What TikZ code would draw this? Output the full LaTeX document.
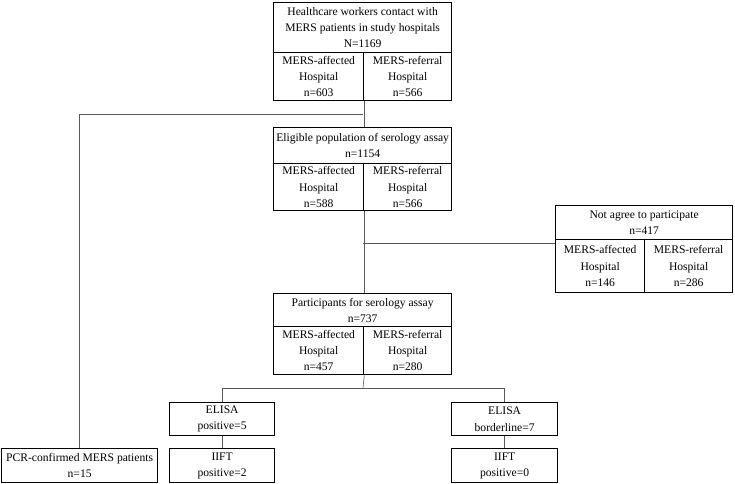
\documentclass[tikz,border=0pt]{standalone}
\usepackage{fontspec}
\setmainfont{Liberation Serif}
\begin{document}
\begin{tikzpicture}[x=1pt,y=-1pt,
  cell/.style={draw=black,line width=1.3pt,anchor=north west,inner sep=0pt,align=center,
    font=\fontsize{11.6}{16.3}\selectfont},
  conn/.style={draw=black!65,line width=0.6pt}]
\useasboundingbox (0,0) rectangle (735,483);
% box A
\node[cell,minimum width=178pt,minimum height=50pt] (Ah) at (273,2) {Healthcare workers contact with\\MERS patients in study hospitals\\N=1169};
\node[cell,minimum width=90pt,minimum height=48pt] (Al) at (273,52) {MERS-affected\\Hospital\\n=603};
\node[cell,minimum width=88pt,minimum height=48pt] (Ar) at (363,52) {MERS-referral\\Hospital\\n=566};
% box B
\node[cell,minimum width=178pt,minimum height=36pt] (Bh) at (273,127) {Eligible population of serology assay\\n=1154};
\node[cell,minimum width=90pt,minimum height=47pt] (Bl) at (273,163) {MERS-affected\\Hospital\\n=588};
\node[cell,minimum width=88pt,minimum height=47pt] (Br) at (363,163) {MERS-referral\\Hospital\\n=566};
% box NA
\node[cell,minimum width=177pt,minimum height=34pt] (Nh) at (555,205) {Not agree to participate\\n=417};
\node[cell,minimum width=89pt,minimum height=53pt] (Nl) at (555,239) {MERS-affected\\Hospital\\n=146};
\node[cell,minimum width=88pt,minimum height=53pt] (Nr) at (644,239) {MERS-referral\\Hospital\\n=286};
% box C
\node[cell,minimum width=178pt,minimum height=33pt] (Ch) at (273,293) {Participants for serology assay\\n=737};
\node[cell,minimum width=90pt,minimum height=48pt] (Cl) at (273,326) {MERS-affected\\Hospital\\n=457};
\node[cell,minimum width=88pt,minimum height=48pt] (Cr) at (363,326) {MERS-referral\\Hospital\\n=280};
% ELISA / IIFT / PCR
\node[cell,minimum width=105pt,minimum height=33pt] (E1) at (169,402) {ELISA\\positive=5};
\node[cell,minimum width=106pt,minimum height=33pt] (E2) at (451,402) {ELISA\\borderline=7};
\node[cell,minimum width=105pt,minimum height=34pt] (I1) at (169,448) {IIFT\\positive=2};
\node[cell,minimum width=106pt,minimum height=34pt] (I2) at (451,448) {IIFT\\positive=0};
\node[cell,minimum width=156pt,minimum height=34pt] (P) at (1,448) {PCR-confirmed MERS patients\\n=15};
% connectors
\coordinate (j1) at (363,114);
\coordinate (j2) at (363,243);
\coordinate (j3) at (363,388);
\draw[conn] (Al.south east) -- (Bh.north -| Al.south east);
\draw[conn] (j1) -| (P.north);
\draw[conn] (Bl.south east) -- (Ch.north -| Bl.south east);
\draw[conn] (j2) -- (j2 -| Nl.west);
\draw[conn] (Cl.south east) -- (j3);
\draw[conn] (E1.north) |- (j3) -| (E2.north);
\draw[conn] (E1.south) -- (I1.north);
\draw[conn] (E2.south) -- (I2.north);
\end{tikzpicture}
\end{document}
